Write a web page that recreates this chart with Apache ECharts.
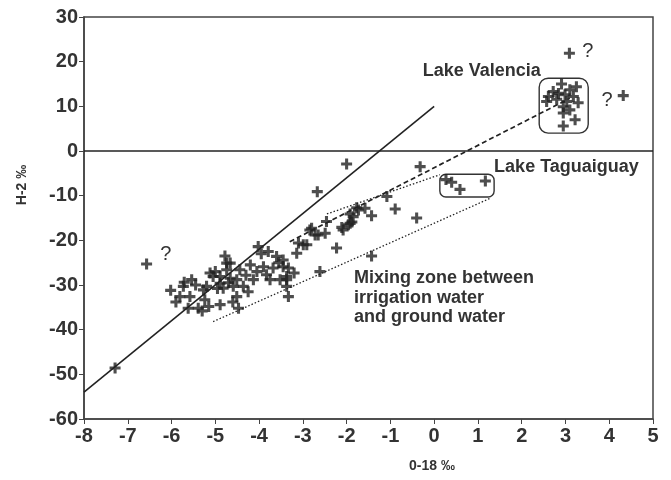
<!DOCTYPE html>
<html>
<head>
<meta charset="utf-8">
<script src="https://cdn.jsdelivr.net/npm/echarts@6/dist/echarts.min.js"></script>
<style>
    html, body { margin: 0; background: #fff; }
    #chart { width: 671px; height: 480px; }
</style>
</head>
<body>
<div id="chart"></div>
<script>
/* samples: [O-18, H-2] */
const mixingSamples = [
    [-7.29, -48.6], [-6.57, -25.3], [-6.02, -31.2], [-5.73, -30.3], [-5.54, -28.8],
    [-5.81, -32.6], [-5.58, -32.6], [-5.62, -35.2], [-5.39, -35.2], [-5.27, -31.1],
    [-5.12, -27.3], [-4.89, -34.4], [-4.78, -23.5], [-4.74, -25.1], [-4.74, -26.6],
    [-4.47, -35.2], [-4.51, -32.6], [-4.36, -30.3], [-4.44, -26.6], [-4.02, -21.4],
    [-3.79, -22.5], [-3.60, -23.6], [-3.90, -25.9], [-3.68, -26.2], [-3.83, -27.7],
    [-3.45, -25.9], [-3.37, -28.1], [-3.52, -28.8], [-3.37, -30.3], [-3.33, -32.6],
    [-3.14, -22.9], [-3.45, -24.4], [-3.10, -20.6], [-2.91, -21.0], [-2.84, -17.7],
    [-2.65, -18.8], [-2.49, -18.4], [-2.46, -15.8], [-2.23, -21.7], [-2.61, -27.0],
    [-2.08, -17.7], [-1.92, -16.2], [-1.85, -14.7], [-1.73, -13.2], [-1.58, -12.8],
    [-1.43, -14.5], [-1.43, -23.5], [-2.67, -9.1], [-2.00, -2.9], [-0.32, -3.5],
    [-5.20, -30.3], [-5.30, -35.8], [-5.24, -33.3], [-5.05, -28.1], [-4.89, -28.1],
    [-4.66, -28.5], [-4.51, -28.8], [-4.59, -30.3], [-4.89, -29.6], [-4.82, -30.7],
    [-4.13, -28.8], [-3.75, -28.8], [-4.66, -25.1], [-5.71, -29.4],
    [-1.77, -12.7], [-1.92, -14.1], [-1.88, -15.9], [-1.96, -16.5], [-2.11, -17.1],
    [-2.80, -17.3], [-2.72, -18.8], [-1.08, -10.2], [-0.89, -13.0], [-0.40, -15.0],
    [-2.99, -21.0], [-3.33, -26.2], [-3.37, -28.8],
    [-5.00, -27.0], [-4.95, -30.8], [-4.70, -29.5], [-4.30, -27.8], [-4.25, -31.5],
    [-5.45, -30.0], [-5.90, -33.8], [-4.60, -33.8], [-4.20, -25.5], [-3.95, -23.0],
    [-3.55, -25.0], [-3.20, -27.3], [-4.05, -27.0], [-5.15, -34.8]
];
const taguaiguaySamples = [[0.27, -6.4], [0.40, -7.0], [0.59, -8.6], [1.17, -6.7]];
const valenciaSamples = [
    [2.91, 15.0], [3.25, 14.4], [3.10, 13.7], [2.72, 13.3], [2.84, 12.9],
    [2.99, 12.6], [2.61, 12.2], [2.80, 11.6], [3.18, 12.2], [3.03, 11.1],
    [3.29, 10.8], [2.57, 11.1], [2.95, 9.9], [3.10, 9.2], [2.95, 8.5],
    [3.22, 7.0], [2.95, 5.6]
];
const outlierSamples = [[3.09, 21.9], [4.32, 12.4]];

/* reference lines */
const meteoricLine = [[-8, -54], [0, 10]];
const evaporationLine = [[-3.3, -20.3], [3.1, 11.8]];
const mixingUpperEdge = [[-2.45, -14.1], [0.13, -5.3]];
const mixingLowerEdge = [[-5.05, -38.2], [1.3, -10.5]];
const zeroLine = [[-8, 0], [5, 0]];

/* lake boxes: [x1, y1, x2, y2] */
const lakeBoxes = [[2.40, 16.3, 3.52, 4.0], [0.13, -5.2, 1.37, -10.3]];

/* annotations */
const noteTexts = ['Lake Valencia', 'Lake Taguaiguay', 'Mixing zone between', 'irrigation water', 'and ground water', '?', '?', '?'];
const notePos = [[-0.26, 17.9], [1.37, -3.6], [-1.83, -28.4], [-1.83, -32.9], [-1.83, -37.1], [-6.13, -23.2], [3.51, 22.2], [3.95, 11.4]];
const noteBold = [true, true, true, true, true, false, false, false];

const ink = '#222';
const font = '"Liberation Sans", Arial, sans-serif';
const plus = 'path://M3.6,0H6.4V3.6H10V6.4H6.4V10H3.6V6.4H0V3.6H3.6Z';

function lineSeries(data, type, width) {
    return {
        type: 'line', data: data, symbol: 'none', silent: true,
        lineStyle: { color: ink, width: width, type: type },
    };
}
function scatter(data) {
    return {
        type: 'scatter', data: data, symbol: plus, symbolSize: 11,
        itemStyle: { color: ink }, silent: true,
    };
}

const chart = echarts.init(document.getElementById('chart'));
chart.setOption({
    backgroundColor: '#fff',
    animation: false,
    grid: { left: 84, right: 18, top: 17, bottom: 61, show: true, borderColor: '#444', borderWidth: 1.5 },
    xAxis: {
        type: 'value', min: -8, max: 5, interval: 1,
        axisLine: { onZero: false, lineStyle: { color: '#444', width: 1.6 } },
        axisTick: { length: 5, lineStyle: { color: '#444' } },
        axisLabel: { color: '#333', fontSize: 20, fontWeight: 'bold', fontFamily: font, margin: 7 },
        splitLine: { show: false },
    },
    yAxis: {
        type: 'value', min: -60, max: 30, interval: 10,
        axisLine: { onZero: false, lineStyle: { color: '#444', width: 1.6 } },
        axisTick: { show: true, length: 5, lineStyle: { color: '#444' } },
        axisLabel: { color: '#333', fontSize: 20, fontWeight: 'bold', fontFamily: font, margin: 6 },
        splitLine: { show: false },
    },
    graphic: [
        { type: 'text', x: 432, y: 466, style: { text: '0-18 ‰', font: 'bold 14px ' + font, fill: '#333', align: 'center', verticalAlign: 'middle' } },
        { type: 'text', x: 22, y: 185, rotation: Math.PI / 2, style: { text: 'H-2 ‰', font: 'bold 14px ' + font, fill: '#333', align: 'center', verticalAlign: 'middle' } },
    ],
    series: [
        lineSeries(zeroLine, 'solid', 1.4),
        lineSeries(meteoricLine, 'solid', 1.6),
        lineSeries(evaporationLine, [5, 3], 1.7),
        lineSeries(mixingUpperEdge, [1.5, 2], 1.3),
        lineSeries(mixingLowerEdge, [1.5, 2], 1.3),
        scatter(mixingSamples),
        scatter(taguaiguaySamples),
        scatter(valenciaSamples),
        scatter(outlierSamples),
        {
            type: 'custom', data: lakeBoxes, silent: true,
            encode: { x: [0, 2], y: [1, 3] },
            renderItem: (params, api) => {
                const a = api.coord([api.value(0), api.value(1)]);
                const b = api.coord([api.value(2), api.value(3)]);
                return {
                    type: 'rect',
                    shape: { x: a[0], y: a[1], width: b[0] - a[0], height: b[1] - a[1], r: params.dataIndex === 0 ? 9 : 6 },
                    style: { fill: 'none', stroke: '#333', lineWidth: 1.4 },
                };
            },
        },
        {
            type: 'custom', data: notePos, silent: true,
            encode: { x: 0, y: 1 },
            renderItem: (params, api) => {
                const p = api.coord([api.value(0), api.value(1)]);
                const i = params.dataIndex;
                return {
                    type: 'text', x: p[0], y: p[1],
                    style: {
                        text: noteTexts[i],
                        font: (noteBold[i] ? 'bold 18px ' : '20px ') + font,
                        fill: '#333',
                        align: noteBold[i] ? 'left' : 'center',
                        verticalAlign: 'middle',
                    },
                };
            },
        },
    ],
});
</script>
</body>
</html>
